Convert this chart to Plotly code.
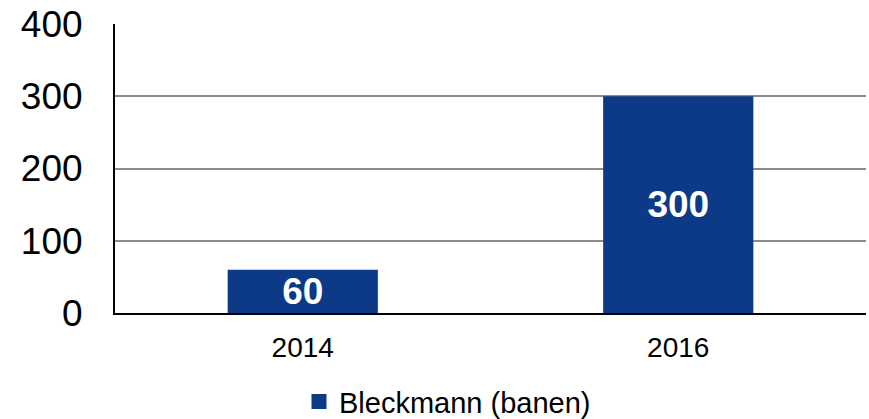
import plotly.graph_objects as go

categories = ["2014", "2016"]
values = [60, 300]
series_name = "Bleckmann (banen)"
y_ticks = [0, 100, 200, 300, 400]
bar_color = "#0c3a87"

fig = go.Figure()
fig.add_trace(go.Bar(
    x=categories, y=values, name=series_name,
    marker=dict(color=bar_color, line=dict(width=0)),
    text=[str(v) for v in values],
    textposition="inside", insidetextanchor="middle", constraintext="none",
    textfont=dict(family="Liberation Sans, Arial", size=37, color="white", weight="bold"),
    showlegend=False,
))
# legend entry with a larger square symbol
fig.add_trace(go.Scatter(
    x=[categories[0]], y=[None], mode="markers", name=series_name,
    marker=dict(symbol="square", size=15, color=bar_color),
    showlegend=True, hoverinfo="skip",
))
fig.update_layout(
    width=869, height=419,
    margin=dict(l=115, r=3, t=24, b=106, autoexpand=False),
    paper_bgcolor="white", plot_bgcolor="white",
    bargap=0.6,
    font=dict(family="Liberation Sans, Arial", color="black"),
    showlegend=True,
    legend=dict(orientation="h", x=0.245, xanchor="left", y=-0.307, yanchor="middle",
                font=dict(size=29), itemwidth=30, bgcolor="rgba(0,0,0,0)"),
    xaxis=dict(type="category", showline=True, linecolor="black", linewidth=2, automargin=False,
               ticks="", tickfont=dict(size=28), ticklabelstandoff=8, showgrid=False),
    yaxis=dict(range=[0, 400], tickvals=y_ticks, showline=True, linecolor="black", linewidth=2,
               automargin=False,
               showgrid=True, gridcolor="#8c8c8c", gridwidth=2, ticks="",
               tickfont=dict(size=37), ticklabelstandoff=23, zeroline=False),
)
fig.write_html(
    "out.html",
    config={"displayModeBar": False},
    post_script="document.body.style.margin='0';document.body.style.overflow='hidden';"
                "document.documentElement.style.overflow='hidden';",
)
